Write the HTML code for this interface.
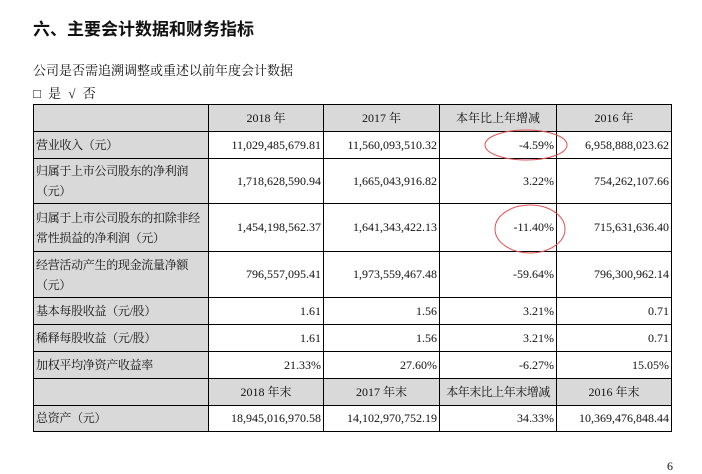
<!DOCTYPE html>
<html><head><meta charset="utf-8"><style>
body{margin:0;width:702px;height:472px;background:#fff;position:relative;overflow:hidden;font-family:"Liberation Serif","Noto Serif CJK SC",serif;color:#111}
.abs{position:absolute;white-space:nowrap}
table{position:absolute;left:33px;top:104px;border-collapse:collapse;table-layout:fixed;font-size:12px}
td{border:1px solid #000;padding:0 2px;text-align:right;line-height:15px;overflow:hidden;white-space:nowrap}
td.l{background:#d9d9d9;text-align:left;padding-left:2px;letter-spacing:-0.3px}
td.l2{line-height:20px}
tr.h td{background:#d9d9d9;text-align:center}
</style></head><body>
<div class="abs" style="left:33px;top:15px;font-size:17px;font-weight:bold;font-family:'Liberation Sans','Noto Sans CJK SC',sans-serif">六、主要会计数据和财务指标</div>
<div class="abs" style="left:33px;top:60px;font-size:13px">公司是否需追溯调整或重述以前年度会计数据</div>
<div class="abs" style="left:33px;top:83px;font-size:13px;word-spacing:4px">□ 是 √ 否</div>
<table>
<colgroup><col style="width:175px"><col style="width:115px"><col style="width:116px"><col style="width:117px"><col style="width:115px"></colgroup>
<tr class="h" style="height:27px"><td></td><td>2018 年</td><td>2017 年</td><td>本年比上年增减</td><td>2016 年</td></tr>
<tr style="height:27px"><td class="l">营业收入（元）</td><td>11,029,485,679.81</td><td>11,560,093,510.32</td><td>-4.59%</td><td>6,958,888,023.62</td></tr>
<tr style="height:45px"><td class="l l2">归属于上市公司股东的净利润<br>（元）</td><td>1,718,628,590.94</td><td>1,665,043,916.82</td><td>3.22%</td><td>754,262,107.66</td></tr>
<tr style="height:48px"><td class="l l2">归属于上市公司股东的扣除非经<br>常性损益的净利润（元）</td><td>1,454,198,562.37</td><td>1,641,343,422.13</td><td>-11.40%</td><td>715,631,636.40</td></tr>
<tr style="height:46px"><td class="l l2">经营活动产生的现金流量净额<br>（元）</td><td>796,557,095.41</td><td>1,973,559,467.48</td><td>-59.64%</td><td>796,300,962.14</td></tr>
<tr style="height:27px"><td class="l">基本每股收益（元/股）</td><td>1.61</td><td>1.56</td><td>3.21%</td><td>0.71</td></tr>
<tr style="height:27px"><td class="l">稀释每股收益（元/股）</td><td>1.61</td><td>1.56</td><td>3.21%</td><td>0.71</td></tr>
<tr style="height:27px"><td class="l">加权平均净资产收益率</td><td>21.33%</td><td>27.60%</td><td>-6.27%</td><td>15.05%</td></tr>
<tr class="h" style="height:27px"><td></td><td>2018 年末</td><td>2017 年末</td><td style="letter-spacing:-0.5px">本年末比上年末增减</td><td>2016 年末</td></tr>
<tr style="height:26px"><td class="l">总资产（元）</td><td>18,945,016,970.58</td><td>14,102,970,752.19</td><td>34.33%</td><td>10,369,476,848.44</td></tr>
</table>
<svg class="abs" style="left:0;top:0" width="702" height="472">
<ellipse cx="526" cy="145" rx="41" ry="15" fill="none" stroke="#e05050" stroke-width="1"/>
<ellipse cx="530" cy="229" rx="35" ry="24" fill="none" stroke="#e05050" stroke-width="1"/>
</svg>
<div class="abs" style="left:667px;top:459px;font-size:12px">6</div>
</body></html>
